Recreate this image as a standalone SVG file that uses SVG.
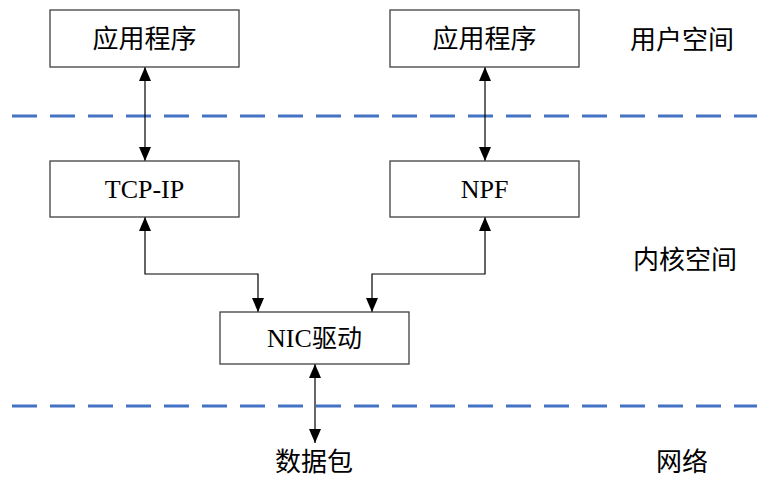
<svg xmlns="http://www.w3.org/2000/svg" width="757" height="479" viewBox="0 0 757 479">
<style>
.box{fill:#fff;stroke:#404040;stroke-width:1.3}
.t{font-family:"Liberation Serif","Noto Sans CJK SC",serif;font-size:26px;fill:#000;text-anchor:middle}
.c{font-family:"Noto Sans CJK SC","Liberation Serif",serif;font-size:26px;fill:#000;text-anchor:middle}
.dash{stroke:#4472C4;stroke-width:3;stroke-dasharray:25 13;fill:none}
.conn{stroke:#000;stroke-width:1.2;fill:none;marker-start:url(#ah);marker-end:url(#ah)}
</style>
<defs>
<marker id="ah" viewBox="0 0 14 12" refX="14" refY="6" markerWidth="14" markerHeight="12" markerUnits="userSpaceOnUse" orient="auto-start-reverse">
<path d="M0,0 L14,6 L0,12 z" fill="#000"/>
</marker>
</defs>
<rect width="757" height="479" fill="#fff"/>
<g id="dividers">
<line class="dash" x1="12" y1="116" x2="757" y2="116"/>
<line class="dash" x1="12" y1="406" x2="757" y2="406"/>
</g>
<g id="connectors">
<path class="conn" d="M145,67 V161"/>
<path class="conn" d="M485,67 V161"/>
<path class="conn" d="M145,217 V274 H258 V312"/>
<path class="conn" d="M485,217 V274 H372 V312"/>
<path class="conn" d="M315,364 V443"/>
</g>
<g id="app1"><rect class="box" x="50" y="10" width="189" height="57"/><text class="c" x="144.5" y="48">应用程序</text></g>
<g id="app2"><rect class="box" x="390" y="10" width="189" height="57"/><text class="c" x="484.5" y="48">应用程序</text></g>
<g id="tcpip"><rect class="box" x="50" y="161" width="189" height="56"/><text class="t" x="144.5" y="198">TCP-IP</text></g>
<g id="npf"><rect class="box" x="390" y="161" width="189" height="56"/><text class="t" x="484.5" y="198">NPF</text></g>
<g id="nic"><rect class="box" x="220" y="312" width="189" height="52"/><text class="t" x="314.5" y="347"><tspan>NIC</tspan><tspan font-family="Noto Sans CJK SC" font-size="25">驱动</tspan></text></g>
<g id="packet"><text class="c" x="314" y="471">数据包</text></g>
<g id="labels">
<text class="c" x="682" y="49">用户空间</text>
<text class="c" x="685" y="269">内核空间</text>
<text class="c" x="682" y="471">网络</text>
</g>
</svg>
